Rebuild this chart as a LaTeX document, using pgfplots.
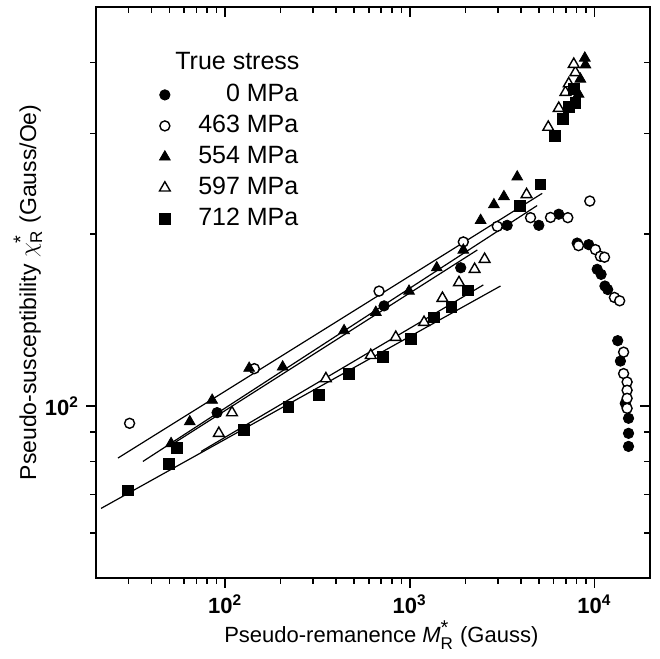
\documentclass[border=0pt]{standalone}
\usepackage{fontspec}
\setmainfont{Liberation Sans}
\usepackage{pgfplots}
\pgfplotsset{compat=1.18}
\newcommand{\subsup}{$_{\mbox{\fontsize{8.5}{9}\selectfont R}}^{\mbox{\fontsize{10}{10}\selectfont *}}$}
\begin{document}
\begin{tikzpicture}
\path (-48pt,-40.5pt) rectangle (281.5pt,289pt);
\begin{axis}[at={(0,0)}, anchor=south west,
  width=277pt, height=285.5pt, scale only axis,
  xmode=log, ymode=log, xmin=20, xmax=20000, ymin=50, ymax=500,
  axis line style={line width=1.3pt},
  tick style={black, line width=0.8pt},
  major tick length=5pt, minor tick length=2.8pt,
  tick align=outside, xtick pos=left, ytick pos=left,
  xtick={100,1000,10000},
  xticklabels={\textbf{10}\textsuperscript{\textbf{2}},\textbf{10}\textsuperscript{\textbf{3}},\textbf{10}\textsuperscript{\textbf{4}}},
  ytick={100}, yticklabels={\textbf{10}\textsuperscript{\textbf{2}}},
  minor xtick={30,40,50,60,70,80,90,200,300,400,500,600,700,800,900,2000,3000,4000,5000,6000,7000,8000,9000},
  minor ytick={60,70,80,90,200,300,400},
  ticklabel style={font=\fontsize{11}{12}\selectfont},
  xlabel={Pseudo-remanence \textit{M}\subsup\ (Gauss)},
  ylabel={Pseudo-susceptibility $\chi$\subsup\ (Gauss/Oe)},
  xlabel style={at={(axis description cs:0.515,-0.1)}, anchor=center, font=\fontsize{11}{13}\selectfont},
  ylabel style={at={(axis description cs:-0.123,0.5)}, anchor=center, font=\fontsize{11.5}{13}\selectfont},
  legend style={at={(axis description cs:0.103,0.873)}, anchor=north west, draw=none, fill=none,
    font=\fontsize{12.5}{14}\selectfont, column sep=14pt, row sep=4.5pt,
    nodes={inner sep=0pt, text height=9pt, text depth=2pt}},
  legend cell align=right,
]
% fit lines
\addplot[black, line width=0.6pt, forget plot] coordinates {(26.3,81.1) (5215,235.8)};
\addplot[black, line width=0.6pt, forget plot] coordinates {(35.9,80.0) (4897,224.5)};
\addplot[black, line width=0.6pt, forget plot] coordinates {(49.6,85.0) (2323,187.7)};
\addplot[black, line width=0.6pt, forget plot] coordinates {(74.2,83.3) (2502,163)};
\addplot[black, line width=0.6pt, forget plot] coordinates {(21.3,66.2) (3100,162.3)};
% 0 MPa
\addplot[only marks, mark=*, mark size=2.6pt, mark options={fill=black, draw=black}] coordinates {
(90.5,97.4) (726,149.8) (1888,174.7) (3370,207.3) (5000,207.3) (6410,216.8)
(8060,193) (9310,191.8) (10350,173.6) (10870,170.1) (11400,162.3) (11800,160)
(13370,130.2) (13830,119.9) (14690,101.1) (15300,95.2) (15300,89.6) (15300,85)
};
\addlegendentry{0 MPa}
% 463 MPa
\addplot[only marks, mark=*, mark size=2.5pt, mark options={fill=white, draw=black, line width=0.7pt}] coordinates {
(30.4,93.3) (144,116.3) (682,159) (1950,193.9) (2979,206.4) (4508,213.8)
(5785,214) (7176,213.8) (9440,228.6) (8200,191) (10120,188) (10770,183) (11340,182.3)
(12830,155) (13700,152.9) (14390,124.3) (14390,114) (15030,110.2) (15030,106.6)
(15030,103.2) (15030,99.1)
};
\addlegendentry{463 MPa}
% 554 MPa
\addplot[only marks, mark=triangle*, mark size=3.1pt, mark options={fill=black, draw=black}] coordinates {
(51,86) (64.4,93.9) (85.1,102.4) (135,116.5) (205,117.1) (441,135.6) (655,146)
(991,159) (1400,174.7) (1950,187.6) (2420,211.5) (2856,225.3) (3235,232.8) (3820,252)
(8200,352) (8390,374) (8870,407) (8940,396)
};
\addlegendentry{554 MPa}
% 597 MPa
\addplot[only marks, mark=triangle*, mark size=3.1pt, mark options={fill=white, draw=black, line width=0.7pt}] coordinates {
(92.5,89.6) (109,97.4) (351.5,111.7) (615,122.7) (840,132) (1195,140.2) (1503,154.5)
(1848,164.6) (2245,173.6) (2543,180.8) (4290,234.7)
(5623,308) (6410,332.4) (6970,354.5) (7260,367) (7890,384) (7730,397)
};
\addlegendentry{597 MPa}
% 712 MPa
\addplot[only marks, mark=square*, mark size=2.7pt, mark options={fill=black, draw=black}] coordinates {
(29.9,71.2) (49.7,79.3) (55.1,84.6) (126.2,90.8) (220,99.7) (323.5,104.5) (470,114)
(712,121.8) (1013,131.3) (1353,143) (1680,149.3) (2066,159.5) (3945,224.2) (5105,244.5)
(6080,297) (6770,318) (7260,333.8) (7730,359) (7890,340)
};
\addlegendentry{712 MPa}
\node[anchor=west, font=\fontsize{12.5}{14}\selectfont, inner sep=0pt] at (axis description cs:0.1426,0.9054) {True stress};
\end{axis}
\begin{scope}[overlay]
\begin{axis}[at={(0,0)}, anchor=south west,
  width=277pt, height=285.5pt, scale only axis,
  xmode=log, ymode=log, xmin=20, xmax=20000, ymin=50, ymax=500,
  axis line style={line width=1.3pt},
  tick style={black, line width=0.8pt},
  major tick length=5pt, minor tick length=2.8pt,
  tick align=inside, xtick pos=right, ytick pos=right,
  xtick={100,1000,10000}, ytick={100},
  xticklabels={}, yticklabels={},
  minor xtick={30,40,50,60,70,80,90,200,300,400,500,600,700,800,900,2000,3000,4000,5000,6000,7000,8000,9000},
  minor ytick={60,70,80,90,200,300,400},
]
\addplot[draw=none] coordinates {(100,100)};
\end{axis}
\end{scope}
\end{tikzpicture}
\end{document}
